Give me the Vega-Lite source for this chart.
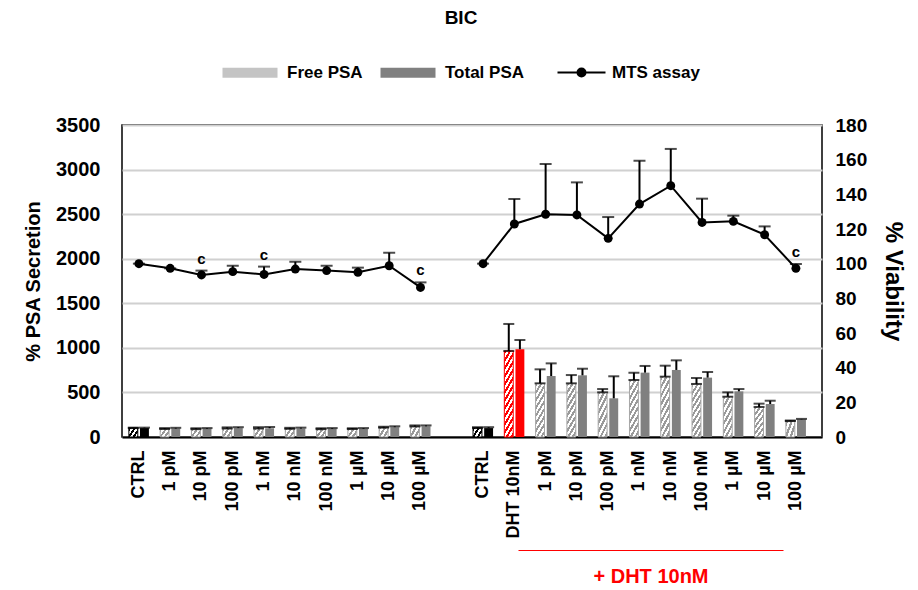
{
  "$schema": "https://vega.github.io/schema/vega-lite/v6.json",
  "width": 700,
  "height": 312,
  "autosize": "none",
  "padding": {"left": 122, "top": 125, "right": 96, "bottom": 153},
  "background": "white",
  "title": {"text": "BIC", "font": "Liberation Sans", "fontSize": 19, "fontWeight": "bold", "color": "#000", "anchor": "middle", "frame": "group", "offset": 36, "dx": -11},
  "config": {
    "font": "Liberation Sans",
    "view": {"stroke": "#000", "strokeWidth": 1.5},
    "legend": {"symbolOpacity": 1}
  },
  "datasets": {
    "psa": [
      {"key": "L|CTRL", "series": "Free PSA", "psa": 100, "hi": 105},
      {"key": "L|CTRL", "series": "Total PSA", "psa": 100, "hi": 105},
      {"key": "L|1 pM", "series": "Free PSA", "psa": 90, "hi": 100},
      {"key": "L|1 pM", "series": "Total PSA", "psa": 95, "hi": 103},
      {"key": "L|10 pM", "series": "Free PSA", "psa": 88, "hi": 98},
      {"key": "L|10 pM", "series": "Total PSA", "psa": 93, "hi": 100},
      {"key": "L|100 pM", "series": "Free PSA", "psa": 95, "hi": 108},
      {"key": "L|100 pM", "series": "Total PSA", "psa": 100, "hi": 110},
      {"key": "L|1 nM", "series": "Free PSA", "psa": 95, "hi": 110},
      {"key": "L|1 nM", "series": "Total PSA", "psa": 98, "hi": 112},
      {"key": "L|10 nM", "series": "Free PSA", "psa": 92, "hi": 103},
      {"key": "L|10 nM", "series": "Total PSA", "psa": 95, "hi": 105},
      {"key": "L|100 nM", "series": "Free PSA", "psa": 88, "hi": 98},
      {"key": "L|100 nM", "series": "Total PSA", "psa": 92, "hi": 100},
      {"key": "L|1 µM", "series": "Free PSA", "psa": 90, "hi": 98},
      {"key": "L|1 µM", "series": "Total PSA", "psa": 92, "hi": 100},
      {"key": "L|10 µM", "series": "Free PSA", "psa": 105, "hi": 115},
      {"key": "L|10 µM", "series": "Total PSA", "psa": 110, "hi": 120},
      {"key": "L|100 µM", "series": "Free PSA", "psa": 118, "hi": 130},
      {"key": "L|100 µM", "series": "Total PSA", "psa": 120, "hi": 130},
      {"key": "R|CTRL", "series": "Free PSA", "psa": 100, "hi": 110},
      {"key": "R|CTRL", "series": "Total PSA", "psa": 100, "hi": 110},
      {"key": "R|DHT 10nM", "series": "Free PSA", "psa": 965, "hi": 1268},
      {"key": "R|DHT 10nM", "series": "Total PSA", "psa": 985, "hi": 1088},
      {"key": "R|1 pM", "series": "Free PSA", "psa": 602, "hi": 759},
      {"key": "R|1 pM", "series": "Total PSA", "psa": 684, "hi": 826},
      {"key": "R|10 pM", "series": "Free PSA", "psa": 602, "hi": 695},
      {"key": "R|10 pM", "series": "Total PSA", "psa": 692, "hi": 766},
      {"key": "R|100 pM", "series": "Free PSA", "psa": 501, "hi": 538},
      {"key": "R|100 pM", "series": "Total PSA", "psa": 434, "hi": 681},
      {"key": "R|1 nM", "series": "Free PSA", "psa": 639, "hi": 722},
      {"key": "R|1 nM", "series": "Total PSA", "psa": 722, "hi": 797},
      {"key": "R|10 nM", "series": "Free PSA", "psa": 677, "hi": 800},
      {"key": "R|10 nM", "series": "Total PSA", "psa": 752, "hi": 860},
      {"key": "R|100 nM", "series": "Free PSA", "psa": 595, "hi": 662},
      {"key": "R|100 nM", "series": "Total PSA", "psa": 666, "hi": 729},
      {"key": "R|1 µM", "series": "Free PSA", "psa": 452, "hi": 501},
      {"key": "R|1 µM", "series": "Total PSA", "psa": 512, "hi": 538},
      {"key": "R|10 µM", "series": "Free PSA", "psa": 337, "hi": 374},
      {"key": "R|10 µM", "series": "Total PSA", "psa": 370, "hi": 407},
      {"key": "R|100 µM", "series": "Free PSA", "psa": 179, "hi": 185},
      {"key": "R|100 µM", "series": "Total PSA", "psa": 198, "hi": 203}
    ],
    "mts": [
      {"key": "L|CTRL", "grp": "L", "series": "MTS assay", "mts": 100, "hi": 100, "sig": ""},
      {"key": "L|1 pM", "grp": "L", "series": "MTS assay", "mts": 97.3, "hi": 97.3, "sig": ""},
      {"key": "L|10 pM", "grp": "L", "series": "MTS assay", "mts": 93.5, "hi": 96, "sig": "c"},
      {"key": "L|100 pM", "grp": "L", "series": "MTS assay", "mts": 95.4, "hi": 98.8, "sig": ""},
      {"key": "L|1 nM", "grp": "L", "series": "MTS assay", "mts": 93.8, "hi": 98.3, "sig": "c"},
      {"key": "L|10 nM", "grp": "L", "series": "MTS assay", "mts": 96.9, "hi": 101.1, "sig": ""},
      {"key": "L|100 nM", "grp": "L", "series": "MTS assay", "mts": 96, "hi": 98.8, "sig": ""},
      {"key": "L|1 µM", "grp": "L", "series": "MTS assay", "mts": 95, "hi": 97.7, "sig": ""},
      {"key": "L|10 µM", "grp": "L", "series": "MTS assay", "mts": 98.8, "hi": 106.3, "sig": ""},
      {"key": "L|100 µM", "grp": "L", "series": "MTS assay", "mts": 86.3, "hi": 89.2, "sig": "c"},
      {"key": "R|CTRL", "grp": "R", "series": "MTS assay", "mts": 100, "hi": 100, "sig": ""},
      {"key": "R|DHT 10nM", "grp": "R", "series": "MTS assay", "mts": 122.9, "hi": 137.3, "sig": ""},
      {"key": "R|1 pM", "grp": "R", "series": "MTS assay", "mts": 128.5, "hi": 157.5, "sig": ""},
      {"key": "R|10 pM", "grp": "R", "series": "MTS assay", "mts": 128.1, "hi": 146.9, "sig": ""},
      {"key": "R|100 pM", "grp": "R", "series": "MTS assay", "mts": 114.6, "hi": 126.9, "sig": ""},
      {"key": "R|1 nM", "grp": "R", "series": "MTS assay", "mts": 134.4, "hi": 159.4, "sig": ""},
      {"key": "R|10 nM", "grp": "R", "series": "MTS assay", "mts": 145, "hi": 166.2, "sig": ""},
      {"key": "R|100 nM", "grp": "R", "series": "MTS assay", "mts": 123.8, "hi": 137.5, "sig": ""},
      {"key": "R|1 µM", "grp": "R", "series": "MTS assay", "mts": 124.4, "hi": 127.7, "sig": ""},
      {"key": "R|10 µM", "grp": "R", "series": "MTS assay", "mts": 116.7, "hi": 121.5, "sig": ""},
      {"key": "R|100 µM", "grp": "R", "series": "MTS assay", "mts": 97.3, "hi": 99.8, "sig": "c"}
    ]
  },
  "layer": [
    {
      "encoding": {
        "x": {
          "field": "key", "type": "nominal", "sort": null,
          "scale": {
            "domain": ["L|CTRL", "L|1 pM", "L|10 pM", "L|100 pM", "L|1 nM", "L|10 nM", "L|100 nM", "L|1 µM", "L|10 µM", "L|100 µM", "G|", "R|CTRL", "R|DHT 10nM", "R|1 pM", "R|10 pM", "R|100 pM", "R|1 nM", "R|10 nM", "R|100 nM", "R|1 µM", "R|10 µM", "R|100 µM"],
            "paddingInner": 0.36, "paddingOuter": 0.367, "align": 0.3
          },
          "axis": {
            "title": null, "labelAngle": 270, "labelExpr": "split(datum.value, '|')[1]",
            "labelFont": "Liberation Sans", "labelFontSize": 18, "labelFontWeight": "bold", "labelColor": "#000",
            "labelOverlap": false, "ticks": false, "labelPadding": 13,
            "domain": true, "domainColor": "#000", "domainWidth": 2, "grid": false
          }
        }
      },
      "layer": [
        {
          "data": {"name": "psa"},
          "encoding": {
            "y": {
              "field": "psa", "type": "quantitative",
              "scale": {"domain": [0, 3500], "nice": false},
              "axis": {
                "title": "% PSA Secretion", "orient": "left", "values": [0, 500, 1000, 1500, 2000, 2500, 3000, 3500], "format": "d",
                "grid": true, "gridColor": "#d0d0d0", "gridWidth": 2, "domain": false, "ticks": false,
                "labelPadding": 22, "labelFont": "Liberation Sans", "labelFontSize": 20, "labelFontWeight": "bold", "labelColor": "#000",
                "titleFont": "Liberation Sans", "titleFontSize": 20, "titleFontWeight": "bold", "titleColor": "#000", "titlePadding": 12
              }
            },
            "xOffset": {"field": "series", "type": "nominal", "scale": {"domain": ["Free PSA", "Total PSA"], "paddingInner": 0.2, "paddingOuter": 0}}
          },
          "layer": [
            {
              "mark": {"type": "bar"},
              "encoding": {
                "color": {
                  "field": "series", "type": "nominal",
                  "scale": {"domain": ["Free PSA", "Total PSA"], "range": ["#c4c4c4", "#808080"]},
                  "condition": [
                    {"test": "datum.key == 'R|DHT 10nM' && datum.series == 'Free PSA'", "value": {"gradient": "linear", "x1": 0, "y1": 0, "x2": 0.2085, "y2": 1.172, "stops": [
                      {"offset": 0, "color": "#ff0000"}, {"offset": 0.0385, "color": "#ff0000"}, {"offset": 0.0385, "color": "#ffffff"}, {"offset": 0.0769, "color": "#ffffff"},
                      {"offset": 0.0769, "color": "#ff0000"}, {"offset": 0.1154, "color": "#ff0000"}, {"offset": 0.1154, "color": "#ffffff"}, {"offset": 0.1538, "color": "#ffffff"},
                      {"offset": 0.1538, "color": "#ff0000"}, {"offset": 0.1923, "color": "#ff0000"}, {"offset": 0.1923, "color": "#ffffff"}, {"offset": 0.2308, "color": "#ffffff"},
                      {"offset": 0.2308, "color": "#ff0000"}, {"offset": 0.2692, "color": "#ff0000"}, {"offset": 0.2692, "color": "#ffffff"}, {"offset": 0.3077, "color": "#ffffff"},
                      {"offset": 0.3077, "color": "#ff0000"}, {"offset": 0.3462, "color": "#ff0000"}, {"offset": 0.3462, "color": "#ffffff"}, {"offset": 0.3846, "color": "#ffffff"},
                      {"offset": 0.3846, "color": "#ff0000"}, {"offset": 0.4231, "color": "#ff0000"}, {"offset": 0.4231, "color": "#ffffff"}, {"offset": 0.4615, "color": "#ffffff"},
                      {"offset": 0.4615, "color": "#ff0000"}, {"offset": 0.5, "color": "#ff0000"}, {"offset": 0.5, "color": "#ffffff"}, {"offset": 0.5385, "color": "#ffffff"},
                      {"offset": 0.5385, "color": "#ff0000"}, {"offset": 0.5769, "color": "#ff0000"}, {"offset": 0.5769, "color": "#ffffff"}, {"offset": 0.6154, "color": "#ffffff"},
                      {"offset": 0.6154, "color": "#ff0000"}, {"offset": 0.6538, "color": "#ff0000"}, {"offset": 0.6538, "color": "#ffffff"}, {"offset": 0.6923, "color": "#ffffff"},
                      {"offset": 0.6923, "color": "#ff0000"}, {"offset": 0.7308, "color": "#ff0000"}, {"offset": 0.7308, "color": "#ffffff"}, {"offset": 0.7692, "color": "#ffffff"},
                      {"offset": 0.7692, "color": "#ff0000"}, {"offset": 0.8077, "color": "#ff0000"}, {"offset": 0.8077, "color": "#ffffff"}, {"offset": 0.8462, "color": "#ffffff"},
                      {"offset": 0.8462, "color": "#ff0000"}, {"offset": 0.8846, "color": "#ff0000"}, {"offset": 0.8846, "color": "#ffffff"}, {"offset": 0.9231, "color": "#ffffff"},
                      {"offset": 0.9231, "color": "#ff0000"}, {"offset": 0.9615, "color": "#ff0000"}, {"offset": 0.9615, "color": "#ffffff"}, {"offset": 1, "color": "#ffffff"}
                    ]}},
                    {"test": "datum.key == 'R|DHT 10nM'", "value": "#ff0000"},
                    {"test": "indexof(datum.key, 'CTRL') >= 0 && datum.series == 'Free PSA'", "value": {"gradient": "linear", "x1": 0, "y1": 0, "x2": 1.466, "y2": 0.958, "stops": [
                      {"offset": 0, "color": "#000000"}, {"offset": 0.125, "color": "#000000"}, {"offset": 0.125, "color": "#ffffff"}, {"offset": 0.25, "color": "#ffffff"},
                      {"offset": 0.25, "color": "#000000"}, {"offset": 0.375, "color": "#000000"}, {"offset": 0.375, "color": "#ffffff"}, {"offset": 0.5, "color": "#ffffff"},
                      {"offset": 0.5, "color": "#000000"}, {"offset": 0.625, "color": "#000000"}, {"offset": 0.625, "color": "#ffffff"}, {"offset": 0.75, "color": "#ffffff"},
                      {"offset": 0.75, "color": "#000000"}, {"offset": 0.875, "color": "#000000"}, {"offset": 0.875, "color": "#ffffff"}, {"offset": 1, "color": "#ffffff"}
                    ]}},
                    {"test": "indexof(datum.key, 'CTRL') >= 0", "value": "#000000"},
                    {"test": "datum.series == 'Free PSA' && datum.psa >= 550", "value": {"gradient": "linear", "x1": 0, "y1": 0, "x2": 0.327, "y2": 1.196, "stops": [
                      {"offset": 0, "color": "#9a9a9a"}, {"offset": 0.0556, "color": "#9a9a9a"}, {"offset": 0.0556, "color": "#ffffff"}, {"offset": 0.1111, "color": "#ffffff"},
                      {"offset": 0.1111, "color": "#9a9a9a"}, {"offset": 0.1667, "color": "#9a9a9a"}, {"offset": 0.1667, "color": "#ffffff"}, {"offset": 0.2222, "color": "#ffffff"},
                      {"offset": 0.2222, "color": "#9a9a9a"}, {"offset": 0.2778, "color": "#9a9a9a"}, {"offset": 0.2778, "color": "#ffffff"}, {"offset": 0.3333, "color": "#ffffff"},
                      {"offset": 0.3333, "color": "#9a9a9a"}, {"offset": 0.3889, "color": "#9a9a9a"}, {"offset": 0.3889, "color": "#ffffff"}, {"offset": 0.4444, "color": "#ffffff"},
                      {"offset": 0.4444, "color": "#9a9a9a"}, {"offset": 0.5, "color": "#9a9a9a"}, {"offset": 0.5, "color": "#ffffff"}, {"offset": 0.5556, "color": "#ffffff"},
                      {"offset": 0.5556, "color": "#9a9a9a"}, {"offset": 0.6111, "color": "#9a9a9a"}, {"offset": 0.6111, "color": "#ffffff"}, {"offset": 0.6667, "color": "#ffffff"},
                      {"offset": 0.6667, "color": "#9a9a9a"}, {"offset": 0.7222, "color": "#9a9a9a"}, {"offset": 0.7222, "color": "#ffffff"}, {"offset": 0.7778, "color": "#ffffff"},
                      {"offset": 0.7778, "color": "#9a9a9a"}, {"offset": 0.8333, "color": "#9a9a9a"}, {"offset": 0.8333, "color": "#ffffff"}, {"offset": 0.8889, "color": "#ffffff"},
                      {"offset": 0.8889, "color": "#9a9a9a"}, {"offset": 0.9444, "color": "#9a9a9a"}, {"offset": 0.9444, "color": "#ffffff"}, {"offset": 1, "color": "#ffffff"}
                    ]}},
                    {"test": "datum.series == 'Free PSA' && datum.psa >= 250", "value": {"gradient": "linear", "x1": 0, "y1": 0, "x2": 0.511, "y2": 1.268, "stops": [
                      {"offset": 0, "color": "#9a9a9a"}, {"offset": 0.0714, "color": "#9a9a9a"}, {"offset": 0.0714, "color": "#ffffff"}, {"offset": 0.1429, "color": "#ffffff"},
                      {"offset": 0.1429, "color": "#9a9a9a"}, {"offset": 0.2143, "color": "#9a9a9a"}, {"offset": 0.2143, "color": "#ffffff"}, {"offset": 0.2857, "color": "#ffffff"},
                      {"offset": 0.2857, "color": "#9a9a9a"}, {"offset": 0.3571, "color": "#9a9a9a"}, {"offset": 0.3571, "color": "#ffffff"}, {"offset": 0.4286, "color": "#ffffff"},
                      {"offset": 0.4286, "color": "#9a9a9a"}, {"offset": 0.5, "color": "#9a9a9a"}, {"offset": 0.5, "color": "#ffffff"}, {"offset": 0.5714, "color": "#ffffff"},
                      {"offset": 0.5714, "color": "#9a9a9a"}, {"offset": 0.6429, "color": "#9a9a9a"}, {"offset": 0.6429, "color": "#ffffff"}, {"offset": 0.7143, "color": "#ffffff"},
                      {"offset": 0.7143, "color": "#9a9a9a"}, {"offset": 0.7857, "color": "#9a9a9a"}, {"offset": 0.7857, "color": "#ffffff"}, {"offset": 0.8571, "color": "#ffffff"},
                      {"offset": 0.8571, "color": "#9a9a9a"}, {"offset": 0.9286, "color": "#9a9a9a"}, {"offset": 0.9286, "color": "#ffffff"}, {"offset": 1, "color": "#ffffff"}
                    ]}},
                    {"test": "datum.series == 'Free PSA'", "value": {"gradient": "linear", "x1": 0, "y1": 0, "x2": 1.466, "y2": 0.958, "stops": [
                      {"offset": 0, "color": "#9a9a9a"}, {"offset": 0.125, "color": "#9a9a9a"}, {"offset": 0.125, "color": "#ffffff"}, {"offset": 0.25, "color": "#ffffff"},
                      {"offset": 0.25, "color": "#9a9a9a"}, {"offset": 0.375, "color": "#9a9a9a"}, {"offset": 0.375, "color": "#ffffff"}, {"offset": 0.5, "color": "#ffffff"},
                      {"offset": 0.5, "color": "#9a9a9a"}, {"offset": 0.625, "color": "#9a9a9a"}, {"offset": 0.625, "color": "#ffffff"}, {"offset": 0.75, "color": "#ffffff"},
                      {"offset": 0.75, "color": "#9a9a9a"}, {"offset": 0.875, "color": "#9a9a9a"}, {"offset": 0.875, "color": "#ffffff"}, {"offset": 1, "color": "#ffffff"}
                    ]}}
                  ],
                  "legend": {
                    "orient": "none", "legendX": 92, "legendY": -61, "direction": "horizontal", "title": null,
                    "labelFont": "Liberation Sans", "labelFontSize": 17, "labelFontWeight": "bold", "labelColor": "#000",
                    "symbolType": "M0,-1H11V1H0Z", "symbolSize": 100, "symbolStrokeWidth": 0,
                    "labelOffset": 56, "columnPadding": 9, "padding": 0,
                    "encode": {
                      "symbols": {
                        "fill": {"condition": {"test": "datum.value == 'Free PSA'", "value": {"gradient": "linear", "x1": 0, "y1": 0, "x2": 1.2135, "y2": 0.1298, "stops": [
                          {"offset": 0, "color": "#9a9a9a"}, {"offset": 0.0556, "color": "#9a9a9a"}, {"offset": 0.0556, "color": "#ffffff"}, {"offset": 0.1111, "color": "#ffffff"},
                          {"offset": 0.1111, "color": "#9a9a9a"}, {"offset": 0.1667, "color": "#9a9a9a"}, {"offset": 0.1667, "color": "#ffffff"}, {"offset": 0.2222, "color": "#ffffff"},
                          {"offset": 0.2222, "color": "#9a9a9a"}, {"offset": 0.2778, "color": "#9a9a9a"}, {"offset": 0.2778, "color": "#ffffff"}, {"offset": 0.3333, "color": "#ffffff"},
                          {"offset": 0.3333, "color": "#9a9a9a"}, {"offset": 0.3889, "color": "#9a9a9a"}, {"offset": 0.3889, "color": "#ffffff"}, {"offset": 0.4444, "color": "#ffffff"},
                          {"offset": 0.4444, "color": "#9a9a9a"}, {"offset": 0.5, "color": "#9a9a9a"}, {"offset": 0.5, "color": "#ffffff"}, {"offset": 0.5556, "color": "#ffffff"},
                          {"offset": 0.5556, "color": "#9a9a9a"}, {"offset": 0.6111, "color": "#9a9a9a"}, {"offset": 0.6111, "color": "#ffffff"}, {"offset": 0.6667, "color": "#ffffff"},
                          {"offset": 0.6667, "color": "#9a9a9a"}, {"offset": 0.7222, "color": "#9a9a9a"}, {"offset": 0.7222, "color": "#ffffff"}, {"offset": 0.7778, "color": "#ffffff"},
                          {"offset": 0.7778, "color": "#9a9a9a"}, {"offset": 0.8333, "color": "#9a9a9a"}, {"offset": 0.8333, "color": "#ffffff"}, {"offset": 0.8889, "color": "#ffffff"},
                          {"offset": 0.8889, "color": "#9a9a9a"}, {"offset": 0.9444, "color": "#9a9a9a"}, {"offset": 0.9444, "color": "#ffffff"}, {"offset": 1, "color": "#ffffff"}
                        ]}}, "value": "#808080"}
                      }
                    }
                  }
                },
                "stroke": {
                  "condition": [
                    {"test": "datum.key == 'R|DHT 10nM'", "value": "#ff0000"},
                    {"test": "indexof(datum.key, 'CTRL') >= 0", "value": "#000000"}
                  ],
                  "value": "#a6a6a6"
                },
                "strokeWidth": {"condition": {"test": "datum.series == 'Free PSA'", "value": 1}, "value": 0}
              }
            },
            {
              "mark": {"type": "rule", "color": "#000", "strokeWidth": 2},
              "encoding": {"y2": {"field": "hi"}}
            },
            {
              "mark": {"type": "tick", "color": "#000", "size": 11, "thickness": 2},
              "encoding": {"y": {"field": "hi", "type": "quantitative"}}
            },
            {
              "transform": [{"filter": "datum.series == 'Free PSA'"}],
              "mark": {"type": "tick", "color": "#000", "size": 11, "thickness": 2}
            }
          ]
        },
        {
          "data": {"name": "mts"},
          "encoding": {
            "y": {
              "field": "mts", "type": "quantitative",
              "scale": {"domain": [0, 180], "nice": false},
              "axis": {
                "title": "% Viability", "orient": "right", "values": [0, 20, 40, 60, 80, 100, 120, 140, 160, 180],
                "grid": false, "domain": false, "ticks": false,
                "labelPadding": 13, "labelFont": "Liberation Sans", "labelFontSize": 19, "labelFontWeight": "bold", "labelColor": "#000",
                "titleFont": "Liberation Sans", "titleFontSize": 24, "titleFontWeight": "bold", "titleColor": "#000", "titlePadding": 14
              }
            }
          },
          "layer": [
            {
              "mark": {"type": "rule", "color": "#000", "strokeWidth": 2},
              "encoding": {"y2": {"field": "hi"}}
            },
            {
              "mark": {"type": "tick", "color": "#000", "size": 12, "thickness": 2},
              "encoding": {"y": {"field": "hi", "type": "quantitative"}}
            },
            {
              "mark": {"type": "line", "strokeWidth": 2},
              "encoding": {
                "stroke": {
                  "field": "series", "type": "nominal",
                  "scale": {"domain": ["MTS assay"], "range": ["#000000"]},
                  "legend": {
                    "orient": "none", "legendX": 427, "legendY": -61, "direction": "horizontal", "title": null,
                    "labelFont": "Liberation Sans", "labelFontSize": 17, "labelFontWeight": "bold", "labelColor": "#000",
                    "symbolType": "M0,0H9.6M5.6,0A0.8,0.8 0 1,1 4,0A0.8,0.8 0 1,1 5.6,0Z", "symbolSize": 100,
                    "symbolStrokeWidth": 2, "symbolFillColor": "#000000", "symbolStrokeColor": "#000000",
                    "labelOffset": 46, "padding": 0
                  }
                },
                "detail": {"field": "grp", "type": "nominal"}
              }
            },
            {
              "mark": {"type": "point", "filled": true, "size": 80, "opacity": 1},
              "encoding": {"fill": {"field": "series", "type": "nominal", "scale": {"domain": ["MTS assay"], "range": ["#000000"]}, "legend": null}}
            },
            {
              "transform": [{"filter": "datum.sig != ''"}],
              "mark": {"type": "text", "font": "Liberation Sans", "fontSize": 15, "fontWeight": "bold", "color": "#000", "baseline": "middle", "dy": -12},
              "encoding": {
                "y": {"field": "hi", "type": "quantitative"},
                "text": {"field": "sig", "type": "nominal"}
              }
            }
          ]
        }
      ],
      "resolve": {"scale": {"y": "independent"}}
    },
    {
      "data": {"name": "mts"},
      "transform": [{"filter": "datum.grp == 'R' && datum.key != 'R|CTRL'"}],
      "mark": {"type": "point", "opacity": 0},
      "encoding": {
        "x": {
          "field": "key", "type": "nominal", "sort": null,
          "scale": {"range": [396, 661]},
          "axis": {
            "orient": "bottom", "offset": 113, "labels": false, "ticks": false, "grid": false,
            "domain": true, "domainColor": "#ff0000", "domainWidth": 1,
            "title": "+ DHT 10nM", "titleColor": "#ff0000", "titleFont": "Liberation Sans", "titleFontSize": 20, "titleFontWeight": "bold", "titlePadding": 16
          }
        }
      }
    }
  ],
  "resolve": {"scale": {"x": "independent"}, "axis": {"x": "independent"}}
}
